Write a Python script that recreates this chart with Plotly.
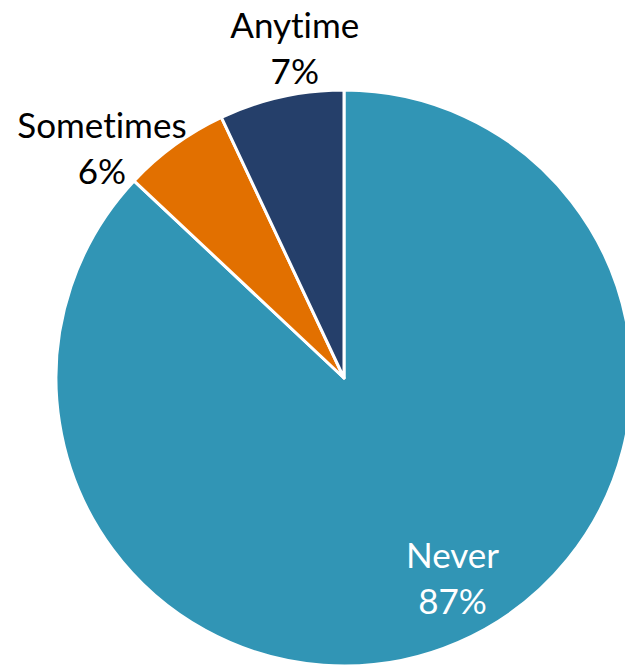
import plotly.graph_objects as go

labels = ["Never", "Sometimes", "Anytime"]
values = [87, 6, 7]
colors = ["#3195B5", "#E27000", "#253F6A"]
text_colors = ["white", "black", "black"]
# label block centres, paper coords
label_x = [0.689, 0.080, 0.415]
label_y = [0.155, 0.901, 1.075]

fig = go.Figure()

fig.add_trace(go.Pie(
    labels=labels,
    values=values,
    sort=False,
    direction="clockwise",
    rotation=0,
    marker=dict(colors=colors, line=dict(color="white", width=3)),
    textinfo="none",
    hoverinfo="label+percent",
    showlegend=False,
))

for lab, val, tc, lx, ly in zip(labels, values, text_colors, label_x, label_y):
    fig.add_annotation(
        text=f"{lab}<br>{val}%",
        x=lx, y=ly, xref="paper", yref="paper",
        xanchor="center", yanchor="middle",
        showarrow=False,
        font=dict(color=tc, size=35, family="Lato"),
    )

# pie runs past the right and bottom edge of the window like the reference
fig.update_layout(
    width=700, height=700,
    margin=dict(l=56, r=68, t=90, b=34),
    paper_bgcolor="white",
    plot_bgcolor="white",
    font=dict(family="Lato"),
)

js = ("document.body.style.margin='0';document.body.style.overflow='hidden';"
      "var s=document.createElement('style');"
      "s.textContent='text{font-variant-ligatures:none;font-feature-settings:\"liga\" 0;}';"
      "document.head.appendChild(s);")
fig.write_html("out.html", post_script=js)
